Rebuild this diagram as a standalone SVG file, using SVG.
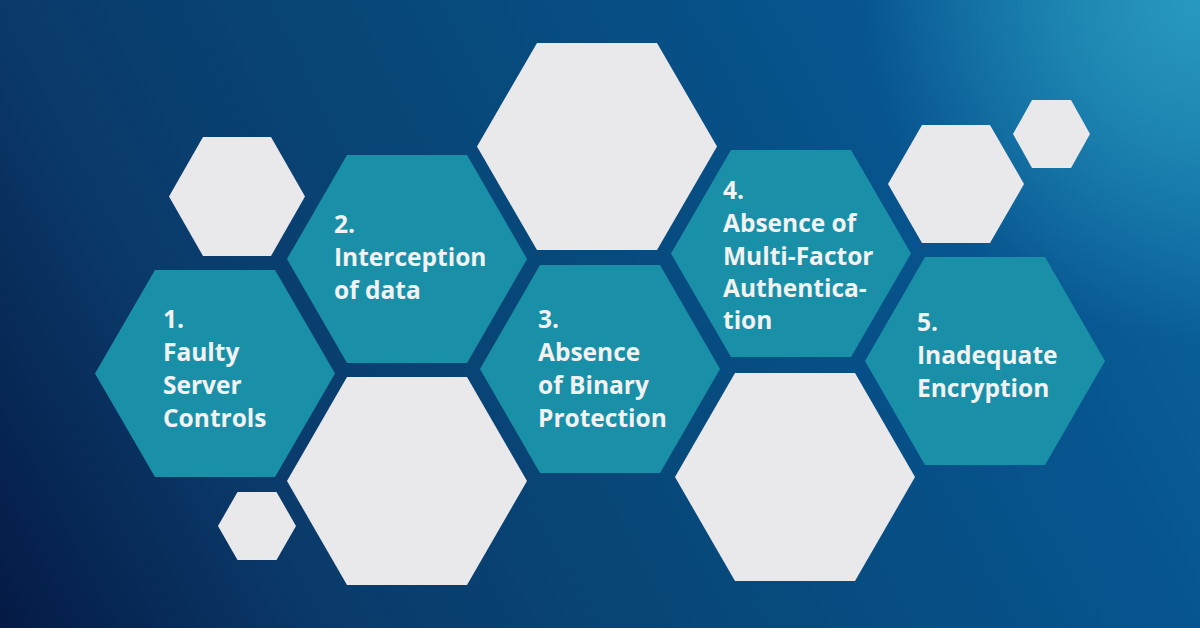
<svg xmlns="http://www.w3.org/2000/svg" width="1200" height="628" viewBox="0 0 1200 628">
  <defs>
    <linearGradient id="bg" gradientUnits="userSpaceOnUse" x1="0" y1="628" x2="1200" y2="0">
      <stop offset="0" stop-color="#051a45"/>
      <stop offset="0.215" stop-color="#0a3a6a"/>
      <stop offset="0.51" stop-color="#074a7c"/>
      <stop offset="0.785" stop-color="#075590"/>
      <stop offset="1" stop-color="#0d6aa2"/>
    </linearGradient>
    <radialGradient id="glow" gradientUnits="userSpaceOnUse" cx="1200" cy="0" r="340">
      <stop offset="0" stop-color="#2a9cc0" stop-opacity="0.95"/>
      <stop offset="0.4" stop-color="#2a9cc0" stop-opacity="0.6"/>
      <stop offset="1" stop-color="#2a9cc0" stop-opacity="0"/>
    </radialGradient>
    <style>
      .teal { fill: #1a90a8; }
      .grey { fill: #e9e9eb; }
      .lbl { font-family: "Open Sans", "Liberation Sans", sans-serif; font-weight: 700; font-size: 24.5px; fill: #f2f2f2; }
    </style>
  </defs>
  <rect width="1200" height="628" fill="url(#bg)"/>
  <rect width="1200" height="628" fill="url(#glow)"/>

  <g id="deco">
    <polygon id="hex-small-tl" class="grey" points="169,196.5 203,137 271,137 305,196.5 271,256 203,256"/>
    <polygon id="hex-tiny-bl" class="grey" points="218,526 237.5,492 276.5,492 296,526 276.5,560 237.5,560"/>
    <polygon id="hex-big-bl" class="grey" points="287,481 347,377 467,377 527,481 467,585 347,585"/>
    <polygon id="hex-big-top" class="grey" points="477,146.5 537,43 657,43 717,146.5 657,250 537,250"/>
    <polygon id="hex-big-br" class="grey" points="675,477 735,373 855,373 915,477 855,581 735,581"/>
    <polygon id="hex-small-tr" class="grey" points="888,184 922,125 990,125 1024,184 990,243 922,243"/>
    <polygon id="hex-tiny-tr" class="grey" points="1013,134 1032,100 1071,100 1090,134 1071,168 1032,168"/>
  </g>

  <g id="node1">
    <polygon class="teal" points="95,373.5 155,270 275,270 335,373.5 275,477 155,477"/>
    <text class="lbl" x="163"><tspan x="163" y="328">1.</tspan><tspan x="163" y="361">Faulty</tspan><tspan x="163" y="394">Server</tspan><tspan x="163" y="427">Controls</tspan></text>
  </g>
  <g id="node2">
    <polygon class="teal" points="287,259 347,155 467,155 527,259 467,363 347,363"/>
    <text class="lbl" x="334"><tspan x="334" y="233">2.</tspan><tspan x="334" y="266">Interception</tspan><tspan x="334" y="299">of data</tspan></text>
  </g>
  <g id="node3">
    <polygon class="teal" points="480,369 540,265 660,265 720,369 660,473 540,473"/>
    <text class="lbl" x="538"><tspan x="538" y="328">3.</tspan><tspan x="538" y="361">Absence</tspan><tspan x="538" y="394">of Binary</tspan><tspan x="538" y="427">Protection</tspan></text>
  </g>
  <g id="node4">
    <polygon class="teal" points="671,253.5 731,150 851,150 911,253.5 851,357 731,357"/>
    <text class="lbl" x="723"><tspan x="723" y="199">4.</tspan><tspan x="723" y="232">Absence of</tspan><tspan x="723" y="265">Multi-Factor</tspan><tspan x="723" y="297">Authentica-</tspan><tspan x="723" y="329">tion</tspan></text>
  </g>
  <g id="node5">
    <polygon class="teal" points="865,361 925,257 1045,257 1105,361 1045,465 925,465"/>
    <text class="lbl" x="917"><tspan x="917" y="331">5.</tspan><tspan x="917" y="364">Inadequate</tspan><tspan x="917" y="397">Encryption</tspan></text>
  </g>
  <g id="connectors"/>
</svg>
